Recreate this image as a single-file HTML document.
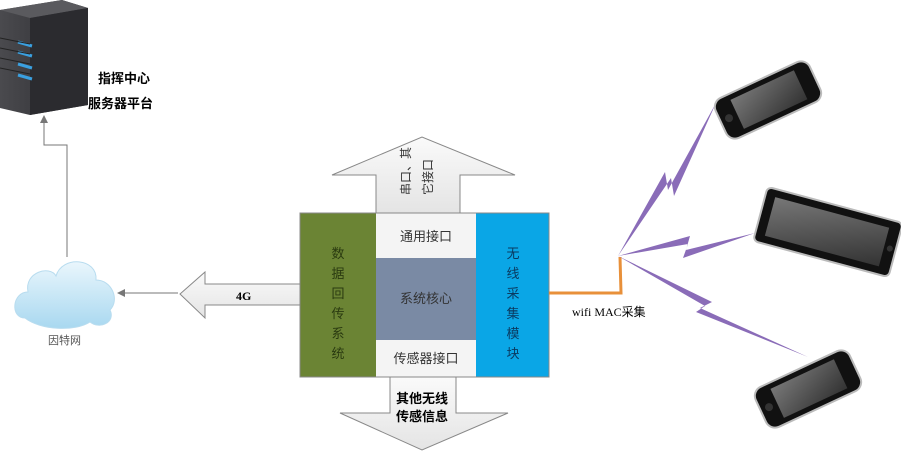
<!DOCTYPE html>
<html><head><meta charset="utf-8"><style>
body{margin:0;width:901px;height:452px;background:#fff;overflow:hidden;font-family:"Liberation Sans","Noto Sans CJK SC",sans-serif}
</style></head><body>
<svg width="901" height="452" viewBox="0 0 901 452" xmlns="http://www.w3.org/2000/svg" style="position:absolute;left:0;top:0">
<defs>
<linearGradient id="srv" x1="0" x2="1"><stop offset="0" stop-color="#4a4a4e"/><stop offset="1" stop-color="#2a2a2e"/></linearGradient>
<linearGradient id="cl" x1="0" y1="0" x2="0" y2="1"><stop offset="0" stop-color="#eaf6fc"/><stop offset="1" stop-color="#a8d8f0"/></linearGradient>
<linearGradient id="ar" x1="0" y1="0" x2="0" y2="1"><stop offset="0" stop-color="#fafafa"/><stop offset="1" stop-color="#e4e4e4"/></linearGradient>
<linearGradient id="scr" x1="0" y1="0" x2="1" y2="1"><stop offset="0" stop-color="#777"/><stop offset="1" stop-color="#333"/></linearGradient>
</defs>
<!-- server -->
<polygon points="0,10 62,0 88,8 88,105 30,115 0,108" fill="url(#srv)"/>
<polygon points="0,10 62,0 88,8 30,18" fill="#5a5a5e"/>
<polygon points="30,18 88,8 88,105 30,115" fill="#2b2b2f"/>
<g stroke="#3aa0e0" stroke-width="3"><line x1="18" y1="42" x2="32" y2="46"/><line x1="18" y1="52" x2="32" y2="56"/><line x1="18" y1="64" x2="32" y2="68"/><line x1="18" y1="75" x2="32" y2="79"/></g>
<g stroke="#222" stroke-width="1"><line x1="0" y1="38" x2="30" y2="44"/><line x1="0" y1="48" x2="30" y2="54"/><line x1="0" y1="58" x2="30" y2="64"/><line x1="0" y1="68" x2="30" y2="74"/></g>
<text x="98" y="83" font-size="13" font-weight="bold">指挥中心</text>
<text x="88" y="108" font-size="13" font-weight="bold">服务器平台</text>
<!-- connector cloud to server -->
<polyline points="67,257 67,145 44,145 44,120" fill="none" stroke="#777" stroke-width="1"/>
<polygon points="44,115 40,123 48,123" fill="#777"/>
<!-- cloud -->
<path d="M25,318 C10,318 12,292 28,292 C24,272 50,265 56,276 C62,255 98,258 96,280 C112,280 120,300 110,310 C116,322 100,330 90,322 C75,332 40,330 25,318Z" fill="url(#cl)" stroke="#b8dcef"/>
<text x="48" y="344" font-size="11" fill="#555">因特网</text>
<line x1="178" y1="293" x2="122" y2="293" stroke="#777"/>
<polygon points="117,293 125,289 125,297" fill="#777"/>
<!-- 4G arrow -->
<polygon points="300,284 205,284 205,272 180,294 205,318 205,305 300,305" fill="url(#ar)" stroke="#888"/>
<text x="236" y="300" font-size="12" font-weight="bold" font-family="Liberation Serif,serif">4G</text>
<!-- up arrow -->
<polygon points="376,213 376,175 332,175 422,137 515,175 460,175 460,213" fill="url(#ar)" stroke="#888"/>
<text font-size="12" fill="#333" transform="translate(410,195) rotate(-90)">串口、其</text>
<text font-size="12" fill="#333" transform="translate(432,195) rotate(-90)">它接口</text>
<!-- down arrow -->
<polygon points="390,377 390,413 340,413 422,450 508,413 456,413 456,377" fill="url(#ar)" stroke="#888"/>
<text x="396" y="403" font-size="13" font-weight="bold">其他无线</text>
<text x="396" y="421" font-size="13" font-weight="bold">传感信息</text>
<!-- block -->
<rect x="300" y="213" width="76" height="164" fill="#6b8434"/>
<rect x="376" y="213" width="100" height="45" fill="#f4f4f4"/>
<rect x="376" y="258" width="100" height="82" fill="#7a8aa4"/>
<rect x="376" y="340" width="100" height="37" fill="#f4f4f4"/>
<rect x="476" y="213" width="73" height="164" fill="#0aa6e6"/>
<rect x="300" y="213" width="249" height="164" fill="none" stroke="#888"/>
<g font-size="13" fill="#2a3a10" text-anchor="middle"><text x="338" y="258">数</text><text x="338" y="278">据</text><text x="338" y="298">回</text><text x="338" y="318">传</text><text x="338" y="338">系</text><text x="338" y="358">统</text></g>
<g font-size="13" fill="#0a3a60" text-anchor="middle"><text x="513" y="258">无</text><text x="513" y="278">线</text><text x="513" y="298">采</text><text x="513" y="318">集</text><text x="513" y="338">模</text><text x="513" y="358">块</text></g>
<text x="426" y="241" font-size="13" text-anchor="middle" fill="#333">通用接口</text>
<text x="426" y="303" font-size="13" text-anchor="middle" fill="#333">系统核心</text>
<text x="426" y="363" font-size="13" text-anchor="middle" fill="#333">传感器接口</text>
<!-- orange -->
<polyline points="549,293 621,293 620,257" fill="none" stroke="#e8903a" stroke-width="3"/>
<text x="572" y="316" font-size="12" font-family="Liberation Serif,'Noto Sans CJK SC',serif">wifi MAC采集</text>
<!-- lightning -->
<g fill="#8a6cb8">
<polygon points="618,256 665,172 668,190 716,103 674,196 671,178"/>
<polygon points="618,256 690,236 686,250 755,233 683,258 688,244"/>
<polygon points="618,256 712,302 700,308 808,357 696,312 705,306"/>
</g>
<!-- phone 1 -->
<g transform="translate(768,100) rotate(-25)"><rect x="-52" y="-22" width="104" height="44" rx="10" fill="#111" stroke="#bbb" stroke-width="2"/><rect x="-34" y="-16" width="70" height="32" fill="url(#scr)"/><circle cx="-43" cy="0" r="4" fill="#333"/></g>
<!-- tablet -->
<g transform="translate(828,232) rotate(15)"><rect x="-70" y="-28" width="140" height="56" rx="5" fill="#111" stroke="#bbb" stroke-width="2"/><rect x="-60" y="-20" width="118" height="40" fill="url(#scr)"/><circle cx="64" cy="0" r="3" fill="#333"/></g>
<!-- phone 3 -->
<g transform="translate(808,389) rotate(-25)"><rect x="-52" y="-22" width="104" height="44" rx="10" fill="#111" stroke="#bbb" stroke-width="2"/><rect x="-34" y="-16" width="70" height="32" fill="url(#scr)"/><circle cx="-43" cy="0" r="4" fill="#333"/></g>
</svg>
</body></html>
